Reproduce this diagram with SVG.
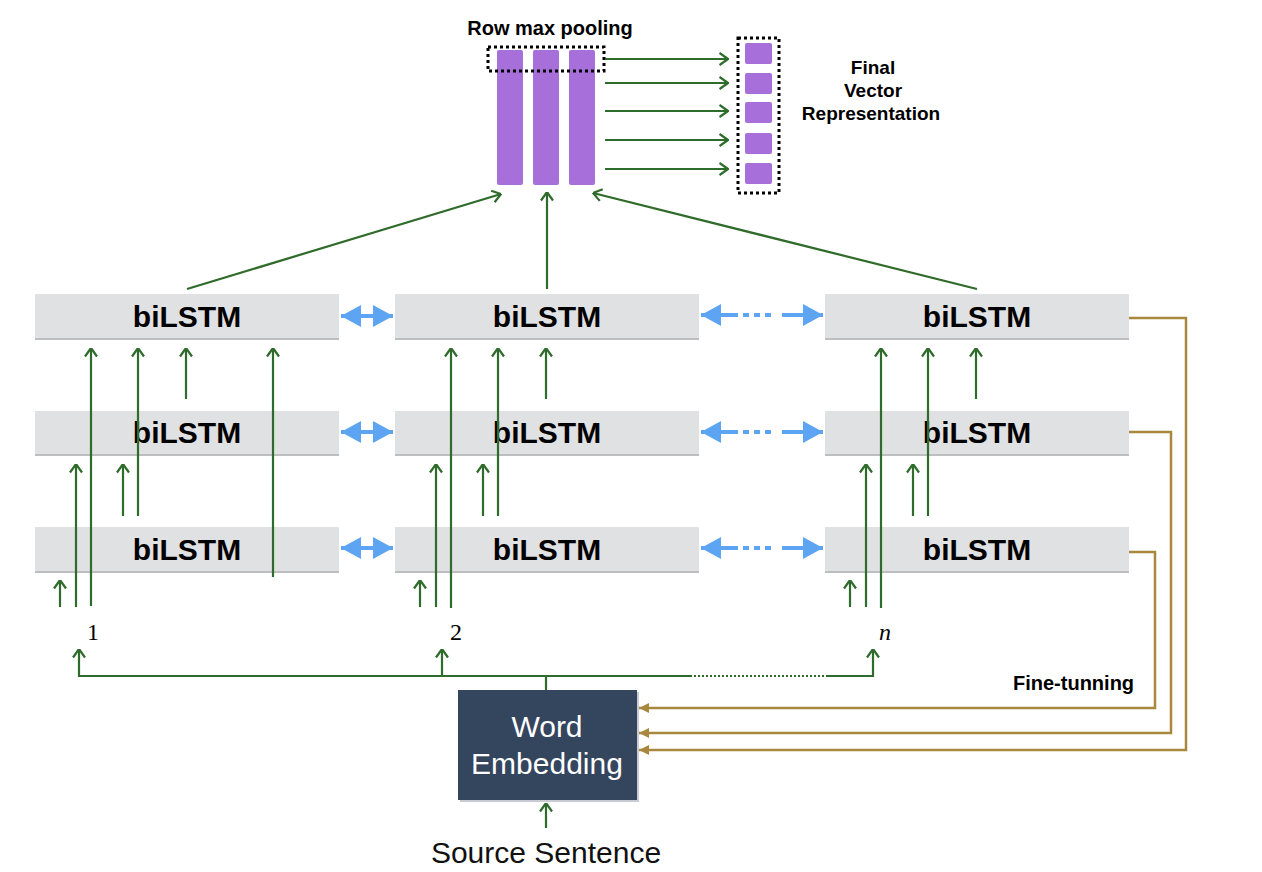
<svg xmlns="http://www.w3.org/2000/svg" width="1262" height="872" viewBox="0 0 1262 872">
<style>
.g{stroke:#2F6B2B;stroke-width:2.2;fill:none}
.ga{stroke:#2F6B2B;stroke-width:2.2;fill:none;marker-end:url(#ah)}
.bra{stroke:#A8873F;stroke-width:2.5;fill:none;marker-end:url(#bh)}
.bl{stroke:#5DA5F2;stroke-width:4;fill:none}
.box{fill:#E0E1E3}
.sh{fill:#BDBEC0}
.bt{font-family:"Liberation Sans",Arial,sans-serif;font-weight:bold;font-size:30px;fill:#000;text-anchor:middle}
.lb{font-family:"Liberation Sans",Arial,sans-serif;font-weight:bold;font-size:20px;fill:#000}
.lb2{font-family:"Liberation Sans",Arial,sans-serif;font-weight:bold;font-size:19px;fill:#000;text-anchor:middle}
.idx{font-family:"Liberation Serif","Times New Roman",serif;font-size:24px;fill:#000}
.pu{fill:#A66FD9}
.dot{fill:none;stroke:#000;stroke-width:3;stroke-dasharray:3 3}
.wt{font-family:"Liberation Sans",Arial,sans-serif;font-size:30px;text-anchor:middle}
</style>
<defs>
<marker id="ah" viewBox="0 0 10 14" refX="9.5" refY="7" markerWidth="10" markerHeight="14" markerUnits="userSpaceOnUse" orient="auto">
<path d="M1,1 L9.5,7 L1,13" fill="none" stroke="#2F6B2B" stroke-width="2.2"/>
</marker>
<marker id="bh" viewBox="0 0 10 10" refX="10" refY="5" markerWidth="10" markerHeight="10" markerUnits="userSpaceOnUse" orient="auto">
<path d="M0,0 L10,5 L0,10 Z" fill="#A8873F"/>
</marker>
<marker id="blE" viewBox="0 0 20 22" refX="20" refY="11" markerWidth="20" markerHeight="22" markerUnits="userSpaceOnUse" orient="auto">
<path d="M0,0 L20,11 L0,22 Z" fill="#5DA5F2"/>
</marker>
<marker id="blS" viewBox="0 0 20 22" refX="0" refY="11" markerWidth="20" markerHeight="22" markerUnits="userSpaceOnUse" orient="auto">
<path d="M20,0 L0,11 L20,22 Z" fill="#5DA5F2"/>
</marker>
</defs>
<rect width="1262" height="872" fill="#fff"/>

<g id="pooling">
<text class="lb" x="550" y="35" text-anchor="middle">Row max pooling</text>
<rect class="pu" x="497" y="50" width="26" height="135" rx="2"/>
<rect class="pu" x="533" y="50" width="26" height="135" rx="2"/>
<rect class="pu" x="569" y="50" width="26" height="135" rx="2"/>
<rect class="dot" x="488" y="47" width="116" height="24"/>
</g>

<g id="final-vector">
<rect class="pu" x="745" y="43" width="27" height="21" rx="2"/>
<rect class="pu" x="745" y="73" width="27" height="21" rx="2"/>
<rect class="pu" x="745" y="102" width="27" height="21" rx="2"/>
<rect class="pu" x="745" y="133" width="27" height="21" rx="2"/>
<rect class="pu" x="745" y="163" width="27" height="21" rx="2"/>
<rect class="dot" x="738" y="38" width="41" height="155"/>
<text class="lb2" x="873" y="74">Final</text>
<text class="lb2" x="873" y="97">Vector</text>
<text class="lb2" x="871" y="120">Representation</text>
</g>

<g id="bilstm-1-3"><rect class="sh" x="35" y="296" width="304" height="44"/><rect class="box" x="35" y="294" width="304" height="44"/><text class="bt" x="187" y="327">biLSTM</text></g>
<g id="bilstm-1-2"><rect class="sh" x="35" y="413" width="304" height="43"/><rect class="box" x="35" y="411" width="304" height="43"/><text class="bt" x="187" y="443">biLSTM</text></g>
<g id="bilstm-1-1"><rect class="sh" x="35" y="529" width="304" height="44"/><rect class="box" x="35" y="527" width="304" height="44"/><text class="bt" x="187" y="560">biLSTM</text></g>
<g id="bilstm-2-3"><rect class="sh" x="395" y="296" width="304" height="44"/><rect class="box" x="395" y="294" width="304" height="44"/><text class="bt" x="547" y="327">biLSTM</text></g>
<g id="bilstm-2-2"><rect class="sh" x="395" y="413" width="304" height="43"/><rect class="box" x="395" y="411" width="304" height="43"/><text class="bt" x="547" y="443">biLSTM</text></g>
<g id="bilstm-2-1"><rect class="sh" x="395" y="529" width="304" height="44"/><rect class="box" x="395" y="527" width="304" height="44"/><text class="bt" x="547" y="560">biLSTM</text></g>
<g id="bilstm-n-3"><rect class="sh" x="825" y="296" width="304" height="44"/><rect class="box" x="825" y="294" width="304" height="44"/><text class="bt" x="977" y="327">biLSTM</text></g>
<g id="bilstm-n-2"><rect class="sh" x="825" y="413" width="304" height="43"/><rect class="box" x="825" y="411" width="304" height="43"/><text class="bt" x="977" y="443">biLSTM</text></g>
<g id="bilstm-n-1"><rect class="sh" x="825" y="529" width="304" height="44"/><rect class="box" x="825" y="527" width="304" height="44"/><text class="bt" x="977" y="560">biLSTM</text></g>

<g id="idx-1"><text class="idx" x="87" y="640">1</text></g>
<g id="idx-2"><text class="idx" x="450" y="640">2</text></g>
<g id="idx-n"><text class="idx" x="879" y="640" font-style="italic">n</text></g>

<g id="word-embedding">
<rect x="460" y="692" width="179" height="110" fill="#C8CCD2"/>
<rect x="458" y="690" width="179" height="110" fill="#34455E"/>
<text class="wt" x="547" y="737" fill="#fff">Word</text>
<text class="wt" x="547" y="774" fill="#fff">Embedding</text>
</g>

<g id="source-sentence"><text class="wt" x="546" y="863" fill="#111">Source Sentence</text></g>

<g id="fine-tuning-label"><text class="lb" x="1013" y="690">Fine-tunning</text></g>

<g id="connectors">
<line class="ga" x1="605" y1="59" x2="728" y2="59"/>
<line class="ga" x1="605" y1="83" x2="728" y2="83"/>
<line class="ga" x1="605" y1="111" x2="728" y2="111"/>
<line class="ga" x1="605" y1="140" x2="728" y2="140"/>
<line class="ga" x1="605" y1="169" x2="728" y2="169"/>
<line class="ga" x1="187" y1="289" x2="501" y2="194"/>
<line class="ga" x1="547" y1="289" x2="547" y2="192"/>
<line class="ga" x1="977" y1="289" x2="593" y2="193"/>

<line class="ga" x1="60" y1="607" x2="60" y2="580"/>
<line class="ga" x1="76" y1="607" x2="76" y2="464"/>
<line class="ga" x1="91" y1="606" x2="91" y2="348"/>
<line class="ga" x1="123" y1="516" x2="123" y2="464"/>
<line class="ga" x1="138" y1="516" x2="138" y2="348"/>
<line class="ga" x1="186" y1="399" x2="186" y2="348"/>
<line class="ga" x1="273" y1="577" x2="273" y2="348"/>
<line class="ga" x1="420" y1="607" x2="420" y2="580"/>
<line class="ga" x1="436" y1="607" x2="436" y2="464"/>
<line class="ga" x1="451" y1="608" x2="451" y2="348"/>
<line class="ga" x1="483" y1="516" x2="483" y2="464"/>
<line class="ga" x1="498" y1="516" x2="498" y2="348"/>
<line class="ga" x1="546" y1="399" x2="546" y2="348"/>
<line class="ga" x1="850" y1="607" x2="850" y2="580"/>
<line class="ga" x1="866" y1="607" x2="866" y2="464"/>
<line class="ga" x1="881" y1="608" x2="881" y2="348"/>
<line class="ga" x1="913" y1="516" x2="913" y2="464"/>
<line class="ga" x1="928" y1="516" x2="928" y2="348"/>
<line class="ga" x1="976" y1="399" x2="976" y2="348"/>

<line class="bl" x1="341" y1="316" x2="393" y2="316" marker-start="url(#blS)" marker-end="url(#blE)"/>
<line class="bl" x1="341" y1="432" x2="393" y2="432" marker-start="url(#blS)" marker-end="url(#blE)"/>
<line class="bl" x1="341" y1="548" x2="393" y2="548" marker-start="url(#blS)" marker-end="url(#blE)"/>
<line class="bl" x1="701" y1="315" x2="738" y2="315" marker-start="url(#blS)"/>
<line class="bl" x1="743" y1="315" x2="776" y2="315" stroke-dasharray="6 5"/>
<line class="bl" x1="782" y1="315" x2="823" y2="315" marker-end="url(#blE)"/>
<line class="bl" x1="701" y1="432" x2="738" y2="432" marker-start="url(#blS)"/>
<line class="bl" x1="743" y1="432" x2="776" y2="432" stroke-dasharray="6 5"/>
<line class="bl" x1="782" y1="432" x2="823" y2="432" marker-end="url(#blE)"/>
<line class="bl" x1="701" y1="548" x2="738" y2="548" marker-start="url(#blS)"/>
<line class="bl" x1="743" y1="548" x2="776" y2="548" stroke-dasharray="6 5"/>
<line class="bl" x1="782" y1="548" x2="823" y2="548" marker-end="url(#blE)"/>

<line class="g" x1="546" y1="690" x2="546" y2="676"/>
<line class="g" x1="78" y1="676" x2="690" y2="676"/>
<line class="g" x1="690" y1="676" x2="827" y2="676" stroke-dasharray="2 2"/>
<line class="g" x1="827" y1="676" x2="874" y2="676"/>
<line class="ga" x1="79" y1="677" x2="79" y2="649"/>
<line class="ga" x1="442" y1="677" x2="442" y2="649"/>
<line class="ga" x1="873" y1="677" x2="873" y2="649"/>
<line class="ga" x1="546" y1="828" x2="546" y2="803"/>

<path class="bra" d="M1129,318 H1186 V750 H639"/>
<path class="bra" d="M1129,432 H1171 V733 H639"/>
<path class="bra" d="M1129,552 H1155 V708 H639"/>
</g>
</svg>
